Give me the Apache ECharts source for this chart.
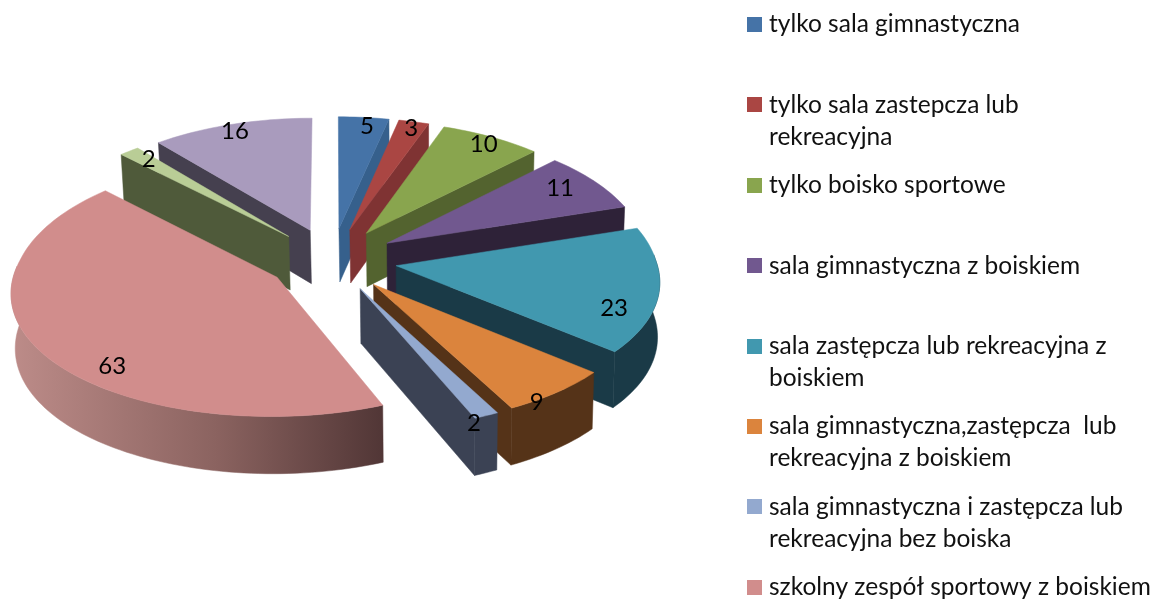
<!DOCTYPE html>
<html><head><meta charset="utf-8">
<style>html,body{margin:0;padding:0;background:#fff}#c{width:1152px;height:599px}</style>
<script src="https://cdn.jsdelivr.net/npm/echarts@6/dist/echarts.min.js"></script>
</head><body><div id="c"></div>
<script>
// Data
const values = [5, 3, 10, 11, 23, 9, 2, 63, 2, 16];
const legendNames = [
  'tylko sala gimnastyczna',
  'tylko sala zastepcza lub\nrekreacyjna',
  'tylko boisko sportowe',
  'sala gimnastyczna z boiskiem',
  'sala zastępcza lub rekreacyjna z\nboiskiem',
  'sala gimnastyczna,zastępcza  lub\nrekreacyjna z boiskiem',
  'sala gimnastyczna i zastępcza lub\nrekreacyjna bez boiska',
  'szkolny zespół sportowy z boiskiem'
];
// Styles
const topColors  = ['#4573a7','#aa4643','#89a54e','#71588f','#4198af','#db843d','#93a9cf','#d18d8c','#b9cd96','#a99bbd'];
const wallColors = ['#36608c','#7f3333','#53632f','#2e2238','#1a3a47','#553318','#3b4254','pink','#4f5a3a','#45404f'];
// Label placement inside each slice: [angle in degrees, fraction of radius]
const labelAngles = [7.6, 16.5, 33, 57, 112, 147, 158.5, 220.9, 318.5, 339.5];
const labelRadii  = [.92, .94, .92, .845, .86, 1.01, 1.03, .87, .89, .93];
const drawOrder = [0,1,2,3,4,9,8,7,5,6];

// Projection of the tilted, exploded pie
const CX = 332, CY = 259.5, R = 260, EXPLODE = 65, DEPTH = 54;
const total = values.reduce((a,b)=>a+b,0);
const rad = d => d*Math.PI/180;
const starts = []; values.reduce((acc,v,i)=>{starts[i]=acc; return acc+v;},0);
function project(X, Y, down) {
  const sx = 1 + (Y < 0 ? 0.00032 : 0.00042)*Y, sy = 1 + 0.0003*Y;
  const x = X*sx, y = 0.487*Y*sy;
  if (!down) return [CX + x, CY + y];
  return [CX + 1 + x*0.99, CY + y + DEPTH*(1 + 0.0002*Y)];
}
function renderSlice(params, api) {
  const value = api.value(0), i = api.value(1), start = api.value(2);
  const a0 = start/total*360, a1 = (start+value)/total*360, mid = rad((a0+a1)/2);
  const ax = EXPLODE*Math.sin(mid), ay = -EXPLODE*Math.cos(mid);
  const on = (deg, r) => [ax + r*Math.sin(rad(deg)), ay - r*Math.cos(rad(deg))];
  const arcBetween = (from, to) => {
    const pts = [], n = Math.max(2, Math.ceil((to-from)/1.5));
    for (let k=0;k<=n;k++) pts.push(on(from+(to-from)*k/n, R));
    return pts;
  };
  const arc = arcBetween(a0, a1);
  const P = (p,d)=>project(p[0],p[1],d);
  const apex = [ax,ay];
  const wall = wallColors[i] === 'pink'
    ? new echarts.graphic.LinearGradient(0,0,1,0,[{offset:0,color:'#bd8c89'},{offset:.55,color:'#8b6360'},{offset:1,color:'#513636'}])
    : wallColors[i];
  const poly = (pts, fill) => ({type:'polygon', shape:{points:pts}, style:{fill, stroke:fill, lineWidth:.5}});
  const children = [];
  const face = p => poly([P(apex,false),P(p,false),P(p,true),P(apex,true)], wall);
  // only the faces turned toward the viewer
  if (-Math.sin(rad(a0)) > 1e-6) children.push(face(arc[0]));
  if (Math.sin(rad(a1)) > 1e-6) children.push(face(arc[arc.length-1]));
  const r0 = Math.max(a0, 85), r1 = Math.min(a1, 275);
  if (r1 > r0) {
    const rim = arcBetween(r0, r1);
    children.push(poly(rim.map(p=>P(p,false)).concat(rim.slice().reverse().map(p=>P(p,true))), wall));
  }
  children.push(poly([P(apex,false)].concat(arc.map(p=>P(p,false))), topColors[i]));
  const lp = P(on(labelAngles[i], R*labelRadii[i]), false);
  children.push({type:'text', z2:10, style:{text:String(value), x:lp[0], y:lp[1], fill:'#000',
    font:'24px Lato, Carlito, sans-serif', align:'center', verticalAlign:'middle'}});
  return {type:'group', children};
}
// Legend
const legendTop = 24.5, legendStep = 80.4;
const legendGraphics = [];
legendNames.forEach((name,i)=>{
  const y = legendTop + i*legendStep;
  legendGraphics.push({type:'rect', shape:{x:747,y:Math.round(y-7.5),width:15,height:15}, style:{fill:topColors[i]}});
  legendGraphics.push({type:'text', style:{text:name, x:769, y:y-16, fill:'#111',
    font:'24.5px Lato, Carlito, sans-serif', lineHeight:32, align:'left', verticalAlign:'top'}});
});
const chart = echarts.init(document.getElementById('c'), null, {renderer:'canvas'});
chart.setOption({
  animation:false,
  backgroundColor:'#fff',
  graphic:{elements:legendGraphics},
  series:[{
    type:'custom', coordinateSystem:'none', silent:true, clip:false,
    renderItem:renderSlice,
    data:drawOrder.map(i=>[values[i], i, starts[i]])
  }]
});
</script></body></html>
